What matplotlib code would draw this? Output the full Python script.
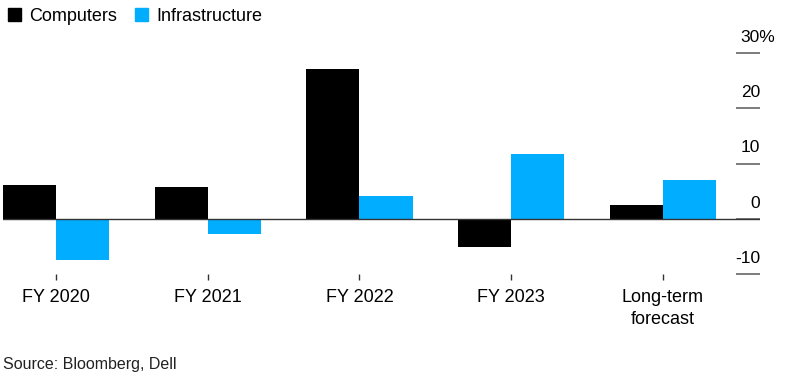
import matplotlib.pyplot as plt
import numpy as np
from matplotlib.patches import Patch

plt.rcParams['font.family'] = ['Liberation Sans', 'DejaVu Sans']

# Data (year-over-year revenue growth, %)
categories = ['FY 2020', 'FY 2021', 'FY 2022', 'FY 2023', 'Long-term\nforecast']
computers = [6.1, 5.7, 27.1, -5.2, 2.5]
infrastructure = [-7.4, -2.7, 4.2, 11.7, 7.0]
y_ticks = [-10, 0, 10, 20, 30]
y_labels = ['-10', '0', '10', '20', '30%']

BLACK = '#000000'
BLUE = '#00adff'
FS_Y = 12.5

fig = plt.figure(figsize=(7.86, 3.79), dpi=100)
ax = fig.add_axes([3 / 786, 1 - 274 / 379, 757 / 786, (274 - 53) / 379])

x = np.arange(len(categories))
w = 0.35
ax.bar(x - w / 2, computers, width=w, color=BLACK, zorder=2)
ax.bar(x + w / 2, infrastructure, width=w, color=BLUE, zorder=2)

ax.set_xlim(-0.35, 4.641)
ax.set_ylim(-10, 30)
ax.axhline(0, color='#333333', lw=1, zorder=3)

for s in ax.spines.values():
    s.set_visible(False)

# x axis: short tick marks under each group
ax.set_xticks(x)
ax.set_xticklabels(categories, fontsize=13, linespacing=1.4)
ax.tick_params(axis='x', direction='out', length=4.5, width=1, color='#333333', pad=6)

# y axis on the right: short lines with labels sitting above them
ax.yaxis.tick_right()
ax.set_yticks(y_ticks)
ax.set_yticklabels([])
ax.tick_params(axis='y', direction='in', length=17.5, width=1.2, color='#666666')
for v, lab in zip(y_ticks, y_labels):
    if lab.endswith('%'):
        # digits right-aligned with the others, % hangs past the edge
        off, ha = -0.556 * (len(lab) - 1) * FS_Y, 'left'
    else:
        off, ha = 0, 'right'
    ax.annotate(lab, xy=(1, v), xycoords=('axes fraction', 'data'),
                xytext=(off, 8), textcoords='offset points',
                ha=ha, va='baseline', fontsize=FS_Y, annotation_clip=False)

handles = [Patch(color=BLACK, label='Computers'), Patch(color=BLUE, label='Infrastructure')]
fig.legend(handles=handles, loc='upper left', bbox_to_anchor=(-0.003, 1.008), ncol=2,
           frameon=False, fontsize=13, handlelength=0.7, handleheight=0.7,
           handletextpad=0.45, columnspacing=1.0, borderaxespad=0.2)

fig.text(0.004, 1 - 364 / 379, 'Source: Bloomberg, Dell', fontsize=11.5,
         color='#222222', va='center', ha='left')

fig.savefig('out.png', dpi=100)
